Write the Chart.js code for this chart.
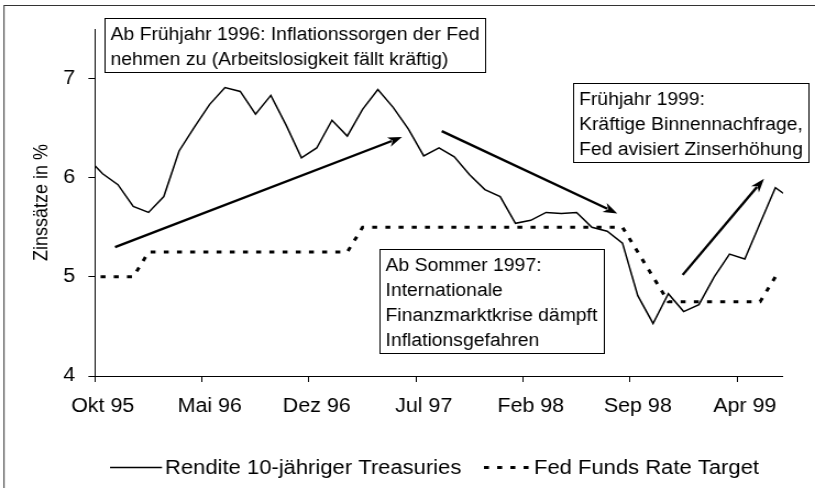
<!DOCTYPE html>
<html>
<head>
<meta charset="utf-8">
<script src="https://cdn.jsdelivr.net/npm/chart.js@4.4.1/dist/chart.umd.min.js"></script>
<style>
  html, body { margin: 0; padding: 0; background: #fff; }
</style>
</head>
<body>
<canvas id="chart" width="741" height="488" style="display:block;width:815px;height:488px"></canvas>
<script>
"use strict";

// monthly averages, each point sits in the middle of its month
const months = [
  'Sep 95', 'Okt 95', 'Nov 95', 'Dez 95',
  'Jan 96', 'Feb 96', 'Mrz 96', 'Apr 96', 'Mai 96', 'Jun 96', 'Jul 96', 'Aug 96', 'Sep 96', 'Okt 96', 'Nov 96', 'Dez 96',
  'Jan 97', 'Feb 97', 'Mrz 97', 'Apr 97', 'Mai 97', 'Jun 97', 'Jul 97', 'Aug 97', 'Sep 97', 'Okt 97', 'Nov 97', 'Dez 97',
  'Jan 98', 'Feb 98', 'Mrz 98', 'Apr 98', 'Mai 98', 'Jun 98', 'Jul 98', 'Aug 98', 'Sep 98', 'Okt 98', 'Nov 98', 'Dez 98',
  'Jan 99', 'Feb 99', 'Mrz 99', 'Apr 99', 'Mai 99', 'Jun 99', 'Jul 99'
];
const treasury = [
  6.20, 6.04, 5.93, 5.71,
  5.65, 5.81, 6.27, 6.51, 6.74, 6.91, 6.87, 6.64, 6.83, 6.53, 6.20, 6.30,
  6.58, 6.42, 6.69, 6.89, 6.71, 6.49, 6.22, 6.30, 6.21, 6.03, 5.88, 5.81,
  5.54, 5.57, 5.65, 5.64, 5.65, 5.50, 5.46, 5.34, 4.81, 4.53, 4.83, 4.65,
  4.72, 5.00, 5.23, 5.18, 5.54, 5.90, 5.79
];
const fedTarget = [
  5.00, 5.00, 5.00, 5.00,
  5.25, 5.25, 5.25, 5.25, 5.25, 5.25, 5.25, 5.25, 5.25, 5.25, 5.25, 5.25,
  5.25, 5.25, 5.50, 5.50, 5.50, 5.50, 5.50, 5.50, 5.50, 5.50, 5.50, 5.50,
  5.50, 5.50, 5.50, 5.50, 5.50, 5.50, 5.50, 5.50, 5.25, 5.00, 4.75, 4.75,
  4.75, 4.75, 4.75, 4.75, 4.75, 5.00, 5.00
];
const xTickLabels = ['Okt 95', 'Mai 96', 'Dez 96', 'Jul 97', 'Feb 98', 'Sep 98', 'Apr 99'];
const yTicks = [4, 5, 6, 7];

// the scan is a bit wider than tall, so draw narrow and let css stretch it
const STRETCH = 815 / 741;
const px = v => v / STRETCH;

// x runs in months from 1 Okt 95, axis ends 1 Jul 99
const xMin = 0, xMax = 45;
const toX = i => i - 0.5;

// notes and arrows in chart units (months, %)
const notes = [
  { x: 0.59, y: 7.615, lines: ['Ab Frühjahr 1996: Inflationssorgen der Fed', 'nehmen zu (Arbeitslosigkeit fällt kräftig)'] },
  { x: 31.24, y: 6.956, lines: ['Frühjahr 1999:', 'Kräftige Binnennachfrage,', 'Fed avisiert Zinserhöhung'] },
  { x: 18.64, y: 5.277, lines: ['Ab Sommer 1997:', 'Internationale', 'Finanzmarktkrise dämpft', 'Inflationsgefahren'] }
];
const arrows = [
  { from: [1.31, 5.30], to: [20.08, 6.41] },
  { from: [22.68, 6.47], to: [34.16, 5.64] },
  { from: [38.44, 5.02], to: [43.76, 5.99] }
];

// legend slots on screen: sample start/end, text start
const legendSlots = [
  { a: 110, b: 162, t: 165 },
  { a: 484, b: 529, t: 534 }
];
const legendY = 467;

const FONT = '"Liberation Sans", Arial, sans-serif';
Chart.defaults.font.family = FONT;
Chart.defaults.color = '#000';

const extras = {
  id: 'extras',
  beforeDraw(chart) {
    const ctx = chart.ctx;
    ctx.save();
    ctx.strokeStyle = '#333';
    ctx.lineWidth = 1;
    ctx.strokeRect(px(4), 5.5, 2000, 2000);
    ctx.restore();
  },
  afterDatasetsDraw(chart) {
    const { ctx, scales: { x, y } } = chart;
    ctx.save();

    // arrows
    ctx.strokeStyle = '#000';
    ctx.fillStyle = '#000';
    ctx.lineWidth = 2.4;
    ctx.lineCap = 'butt';
    arrows.forEach(a => {
      const x1 = x.getPixelForValue(a.from[0]), y1 = y.getPixelForValue(a.from[1]);
      const x2 = x.getPixelForValue(a.to[0]), y2 = y.getPixelForValue(a.to[1]);
      // work out the head on screen, then squeeze back
      const dx = (x2 - x1) * STRETCH, dy = y2 - y1;
      const len = Math.hypot(dx, dy);
      const ux = dx / len, uy = dy / len;
      const L = 14, W = 5;
      const bx = x2 * STRETCH - ux * L, by = y2 - uy * L;
      ctx.beginPath();
      ctx.moveTo(x1, y1);
      ctx.lineTo(px(bx + ux * 3), by + uy * 3);
      ctx.stroke();
      ctx.beginPath();
      ctx.moveTo(x2, y2);
      ctx.lineTo(px(bx - uy * W), by + ux * W);
      ctx.lineTo(px(bx + ux * 4), by + uy * 4);
      ctx.lineTo(px(bx + uy * W), by - ux * W);
      ctx.closePath();
      ctx.fill();
    });

    // text boxes
    ctx.font = '17.6px ' + FONT;
    ctx.textBaseline = 'alphabetic';
    ctx.textAlign = 'left';
    notes.forEach(n => {
      const left = Math.round(x.getPixelForValue(n.x)) + 0.5;
      const top = Math.round(y.getPixelForValue(n.y)) + 0.5;
      const w = Math.round(Math.max(...n.lines.map(t => ctx.measureText(t).width)) + 11);
      const h = n.lines.length * 25 + 4;
      ctx.fillStyle = '#fff';
      ctx.fillRect(left, top, w, h);
      ctx.strokeStyle = '#000';
      ctx.lineWidth = 1;
      ctx.strokeRect(left, top, w, h);
      ctx.fillStyle = '#000';
      n.lines.forEach((t, k) => ctx.fillText(t, left + 5, top + 21 + k * 25));
    });

    // legend, styled from the datasets
    ctx.font = '20px ' + FONT;
    chart.data.datasets.forEach((ds, i) => {
      const s = legendSlots[i];
      ctx.strokeStyle = ds.borderColor;
      ctx.lineWidth = ds.borderWidth;
      ctx.setLineDash(ds.borderDash || []);
      ctx.beginPath();
      ctx.moveTo(px(s.a), legendY + 0.5);
      ctx.lineTo(px(s.b), legendY + 0.5);
      ctx.stroke();
      ctx.setLineDash([]);
      ctx.fillStyle = '#000';
      ctx.fillText(ds.label, px(s.t), legendY + 7);
    });
    ctx.restore();
  }
};

new Chart(document.getElementById('chart'), {
  type: 'line',
  data: {
    datasets: [
      {
        label: 'Rendite 10-jähriger Treasuries',
        data: months.map((m, i) => ({ x: toX(i), y: treasury[i] })),
        borderColor: '#000',
        backgroundColor: '#000',
        borderWidth: 1.5,
        pointRadius: 0,
        tension: 0,
        clip: 0
      },
      {
        label: 'Fed Funds Rate Target',
        data: months.map((m, i) => ({ x: toX(i), y: fedTarget[i] })),
        borderColor: '#000',
        backgroundColor: '#000',
        borderWidth: 3,
        borderDash: [4.5, 7.5],
        pointRadius: 0,
        tension: 0,
        clip: 0
      }
    ]
  },
  options: {
    responsive: false,
    animation: false,
    devicePixelRatio: 1,
    layout: { padding: { left: 0, top: 29, right: 741 - px(783), bottom: 0 } },
    scales: {
      x: {
        type: 'linear',
        min: xMin,
        max: xMax,
        afterFit: s => { s.height = 112; },
        afterBuildTicks: s => {
          s.ticks = xTickLabels.map(l => ({ value: months.indexOf(l) - 1 }));
        },
        border: { display: true, color: '#000', width: 1 },
        grid: { drawOnChartArea: false, drawTicks: true, tickLength: 6, color: '#000' },
        ticks: {
          autoSkip: false,
          maxRotation: 0,
          padding: 13,
          labelOffset: 7,
          color: '#000',
          font: { size: 19.5 },
          callback: v => months[v + 1]
        }
      },
      y: {
        min: 4,
        max: 7.5,
        afterFit: s => { s.width = px(95); },
        afterBuildTicks: s => { s.ticks = yTicks.map(v => ({ value: v })); },
        border: { display: true, color: '#000', width: 1 },
        grid: { drawOnChartArea: false, drawTicks: true, tickLength: 6, color: '#000' },
        ticks: { padding: 12, color: '#000', font: { size: 19.5 } },
        title: {
          display: true,
          text: 'Zinssätze in %',
          color: '#000',
          font: { size: 18 },
          padding: { top: 27, bottom: 0 }
        }
      }
    },
    plugins: {
      legend: { display: false },
      tooltip: { enabled: false }
    }
  },
  plugins: [extras]
});
</script>
</body>
</html>
